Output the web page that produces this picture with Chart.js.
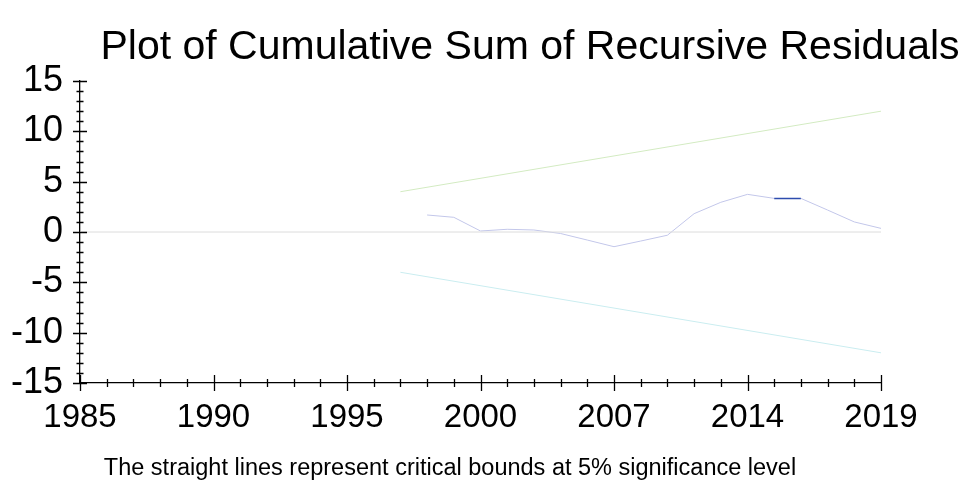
<!DOCTYPE html>
<html>
<head>
<meta charset="utf-8">
<title>CUSUM</title>
<style>
  html, body { margin: 0; padding: 0; background: #fff; }
  #wrap { width: 971px; height: 483px; position: relative; }
</style>
</head>
<body>
<div id="wrap"><canvas id="cusumChart"></canvas></div>
<script src="https://cdn.jsdelivr.net/npm/chart.js@4.4.0/dist/chart.umd.min.js"></script>
<script>
// labels under the major x ticks, one every 5 periods
const tickLabels = ["1985", "1990", "1995", "2000", "2007", "2014", "2019"];
const periodsPerLabel = 5;

const periods = [];
for (let i = 0; i <= (tickLabels.length - 1) * periodsPerLabel; i++) {
  periods.push(i % periodsPerLabel === 0 ? tickLabels[i / periodsPerLabel] : "");
}

// cumulative sum of recursive residuals
const cusum = [
  null, null, null, null, null, null, null, null, null, null, null, null, null,
  1.69, 1.46, 0.1, 0.27, 0.2, -0.15, -0.8, -1.46, -0.9, -0.32,
  1.82, 2.95, 3.74, 3.34, 3.34, 2.18, 1.0, 0.36,
];

// 5% critical bounds, straight lines between the end points
const upperBound = [
  null, null, null, null, null, null, null, null, null, null, null, null, 4,
  null, null, null, null, null, null, null, null, null, null, null, null,
  null, null, null, null, null, 12,
];
const lowerBound = [
  null, null, null, null, null, null, null, null, null, null, null, null, -4,
  null, null, null, null, null, null, null, null, null, null, null, null,
  null, null, null, null, null, -12,
];
const zeroLine = [
  0, null, null, null, null, null, null, null, null, null, null, null, null,
  null, null, null, null, null, null, null, null, null, null, null, null,
  null, null, null, null, null, 0,
];

const yTicksMajor = 5;
const fontFamily = '"Liberation Sans", Arial, Helvetica, sans-serif';

// ticks that cross the axis line, long on majors, short on minors
const crossTicks = {
  id: "crossTicks",
  afterDraw(chart) {
    const { ctx } = chart;
    const x = chart.scales.x;
    const y = chart.scales.y;
    ctx.save();
    ctx.strokeStyle = "#000";
    ctx.lineWidth = 1.3;
    ctx.beginPath();
    y.ticks.forEach((t) => {
      const py = Math.round(y.getPixelForValue(t.value)) + 0.5;
      const half = t.value % yTicksMajor === 0 ? 7 : 3.5;
      ctx.moveTo(y.right - half, py);
      ctx.lineTo(y.right + half, py);
    });
    x.ticks.forEach((t, i) => {
      const px = Math.round(x.getPixelForTick(i)) + 0.5;
      const half = periods[t.value] ? 8 : 4;
      ctx.moveTo(px, x.top - half);
      ctx.lineTo(px, x.top + half);
    });
    ctx.stroke();
    ctx.restore();
  },
};

// title on top, note below the axis
const captions = {
  id: "captions",
  afterDraw(chart) {
    const { ctx } = chart;
    ctx.save();
    ctx.fillStyle = "#000";
    ctx.textAlign = "center";
    ctx.textBaseline = "alphabetic";
    ctx.font = "41px " + fontFamily;
    ctx.fillText("Plot of Cumulative Sum of Recursive Residuals", 530, 59);
    ctx.font = "23.5px " + fontFamily;
    ctx.fillText(
      "The straight lines represent critical bounds at 5% significance level",
      450,
      475
    );
    ctx.restore();
  },
};

new Chart(document.getElementById("cusumChart"), {
  type: "line",
  data: {
    labels: periods,
    datasets: [
      {
        label: "Zero",
        data: zeroLine,
        borderColor: "#dcdcdc",
        borderWidth: 1,
        pointRadius: 0,
        spanGaps: true,
      },
      {
        label: "Upper bound",
        data: upperBound,
        borderColor: "#d3ebc2",
        borderWidth: 1,
        pointRadius: 0,
        spanGaps: true,
      },
      {
        label: "Lower bound",
        data: lowerBound,
        borderColor: "#caedf0",
        borderWidth: 1,
        pointRadius: 0,
        spanGaps: true,
      },
      {
        label: "CUSUM",
        data: cusum,
        borderColor: "#c3c7ea",
        borderWidth: 1,
        pointRadius: 0,
        tension: 0,
        segment: {
          borderColor: (ctx) => (ctx.p0DataIndex === 26 ? "#2d4cae" : undefined),
          borderWidth: (ctx) => (ctx.p0DataIndex === 26 ? 1.5 : undefined),
        },
      },
    ],
  },
  options: {
    responsive: true,
    maintainAspectRatio: false,
    animation: false,
    layout: { padding: { top: 81, right: 90, bottom: 0, left: 0 } },
    plugins: {
      legend: { display: false },
      tooltip: { enabled: false },
    },
    scales: {
      x: {
        type: "category",
        offset: false,
        grid: { display: false, drawTicks: false },
        border: { display: true, color: "#000", width: 1.3 },
        ticks: {
          autoSkip: false,
          maxRotation: 0,
          padding: 15,
          color: "#000",
          font: { family: fontFamily, size: 33 },
        },
        afterFit: (scale) => {
          scale.height = 100;
        },
      },
      y: {
        min: -15,
        max: 15,
        grid: { display: false, drawTicks: false },
        border: { display: true, color: "#000", width: 1.3 },
        ticks: {
          stepSize: 1,
          autoSkip: false,
          padding: 17,
          color: "#000",
          font: { family: fontFamily, size: 36 },
          callback: (value) => (value % yTicksMajor === 0 ? String(value) : ""),
        },
        afterFit: (scale) => {
          scale.width = 80;
        },
      },
    },
  },
  plugins: [crossTicks, captions],
});
</script>
</body>
</html>
